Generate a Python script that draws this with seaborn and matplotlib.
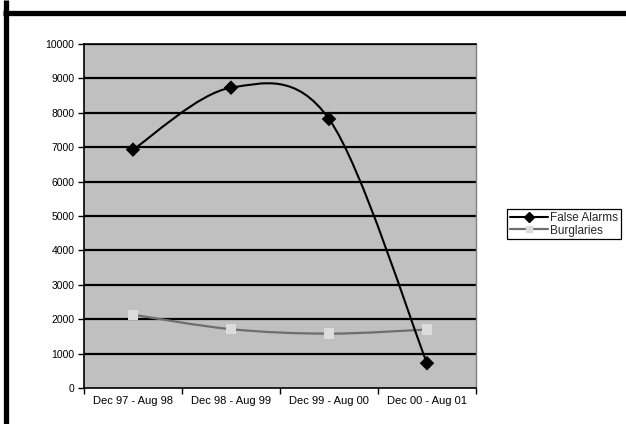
import numpy as np
import pandas as pd
import matplotlib
matplotlib.use("Agg")
import matplotlib.pyplot as plt
from matplotlib.path import Path
from matplotlib.patches import PathPatch
from matplotlib.lines import Line2D
import seaborn as sns

periods = ["Dec 97 - Aug 98", "Dec 98 - Aug 99", "Dec 99 - Aug 00", "Dec 00 - Aug 01"]
false_alarms = [6930, 8730, 7820, 720]
burglaries = [2130, 1710, 1580, 1700]
y_ticks = list(range(0, 10001, 1000))

sns.set_theme(style="white")
plt.rcParams["font.family"] = ["Liberation Sans", "DejaVu Sans"]

fig = plt.figure(figsize=(6.26, 4.24), dpi=100)
ax = fig.add_axes([84 / 626, 1 - 388 / 424, (476 - 84) / 626, (388 - 44) / 424])
ax.set_facecolor("#C0C0C0")

xpos = np.arange(len(periods)) + 0.5
df = pd.DataFrame({
    "x": np.concatenate([xpos, xpos]),
    "value": false_alarms + burglaries,
    "series": ["False Alarms"] * len(periods) + ["Burglaries"] * len(periods),
})


def smooth_path(xs, ys):
    """Cubic Bezier path through the points (Catmull-Rom style smoothing)."""
    pts = np.column_stack([xs, ys]).astype(float)
    n = len(pts)
    verts = [pts[0]]
    codes = [Path.MOVETO]
    for i in range(n - 1):
        p0 = pts[i - 1] if i > 0 else pts[i]
        p1 = pts[i]
        p2 = pts[i + 1]
        p3 = pts[i + 2] if i + 2 < n else pts[i + 1]
        c1 = p1 + (p2 - p0) / 6.0
        c2 = p2 - (p3 - p1) / 6.0
        verts += [c1, c2, p2]
        codes += [Path.CURVE4] * 3
    return Path(verts, codes)


# horizontal gridlines
for t in y_ticks[1:]:
    ax.axhline(t, color="black", lw=1.6, zorder=1)

ax.add_patch(PathPatch(smooth_path(xpos, burglaries), facecolor="none",
                       edgecolor="#6E6E6E", lw=1.6, zorder=3))
ax.add_patch(PathPatch(smooth_path(xpos, false_alarms), facecolor="none",
                       edgecolor="black", lw=1.5, zorder=4))

sns.scatterplot(data=df, x="x", y="value", hue="series", style="series",
                palette={"False Alarms": "black", "Burglaries": "#DCDCDC"},
                markers={"False Alarms": "D", "Burglaries": "s"},
                s=55, edgecolor="none", linewidth=0, legend=False, ax=ax, zorder=5)

ax.set_xlim(0, len(periods))
ax.set_ylim(0, 10000)
ax.set_xlabel("")
ax.set_ylabel("")

ax.set_yticks(y_ticks)
ax.set_yticklabels([str(t) for t in y_ticks])
ax.set_xticks(xpos)
ax.set_xticklabels(periods)
ax.set_xticks(np.arange(len(periods) + 1), minor=True)
ax.tick_params(axis="x", which="major", length=0, pad=6, labelsize=8, colors="black")
ax.tick_params(axis="x", which="minor", length=4, width=1, color="black",
               direction="out", bottom=True)
ax.tick_params(axis="y", length=4, width=1, color="black", direction="out",
               left=True, pad=3, labelsize=7.5, colors="black")

for side in ["left", "bottom", "top"]:
    ax.spines[side].set_color("black")
    ax.spines[side].set_linewidth(1.2)
ax.spines["right"].set_color("#808080")
ax.spines["right"].set_linewidth(1.0)
for s in ax.spines.values():
    s.set_visible(True)

handles = [
    Line2D([], [], color="black", lw=1.5, marker="D", markersize=5,
           markerfacecolor="black", markeredgecolor="black"),
    Line2D([], [], color="#6E6E6E", lw=1.6, marker="s", markersize=5,
           markerfacecolor="#DCDCDC", markeredgecolor="#DCDCDC"),
]
leg = fig.legend(handles, ["False Alarms", "Burglaries"],
                 loc="upper left", bbox_to_anchor=(507 / 626, 1 - 209 / 424),
                 fontsize=8.5, frameon=True, fancybox=False, framealpha=1,
                 edgecolor="black", borderpad=0.25, handlelength=3.2,
                 handletextpad=0.2, labelspacing=0.05, borderaxespad=0)
leg.get_frame().set_linewidth(0.9)

# outer frame lines
fig.add_artist(Line2D([3 / 626, 1], [1 - 12.5 / 424, 1 - 12.5 / 424],
                      transform=fig.transFigure, color="black", lw=3.8,
                      solid_capstyle="butt"))
fig.add_artist(Line2D([5.8 / 626, 5.8 / 626], [0, 1],
                      transform=fig.transFigure, color="black", lw=3.8,
                      solid_capstyle="butt"))

fig.savefig("out.png", dpi=100, facecolor="white")
